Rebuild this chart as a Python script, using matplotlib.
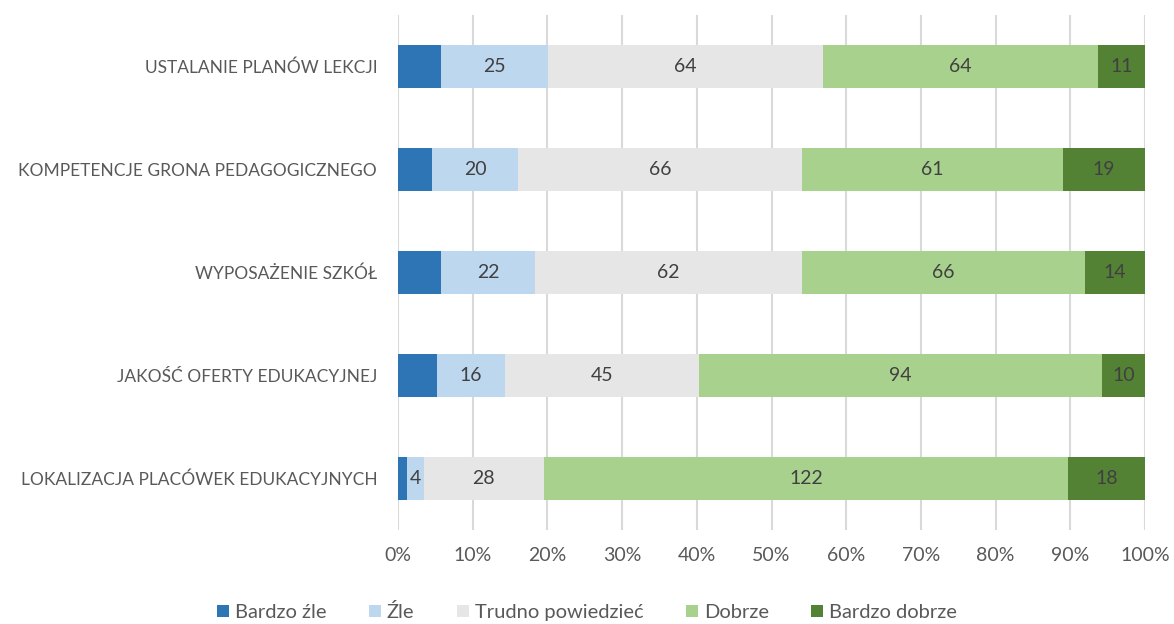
import matplotlib
matplotlib.use("Agg")
import matplotlib.pyplot as plt
import numpy as np

plt.rcParams['font.family'] = ['Lato', 'DejaVu Sans']

categories = ["USTALANIE PLANÓW LEKCJI", "KOMPETENCJE GRONA PEDAGOGICZNEGO",
              "WYPOSAŻENIE SZKÓŁ", "JAKOŚĆ OFERTY EDUKACYJNEJ",
              "LOKALIZACJA PLACÓWEK EDUKACYJNYCH"]
bardzo_zle = [10, 8, 10, 9, 2]
zle = [25, 20, 22, 16, 4]
trudno = [64, 66, 62, 45, 28]
dobrze = [64, 61, 66, 94, 122]
bardzo_dobrze = [11, 19, 14, 10, 18]
series_names = ["Bardzo źle", "Źle", "Trudno powiedzieć", "Dobrze", "Bardzo dobrze"]
colors = ["#2E75B6", "#BDD7EE", "#E7E6E6", "#A9D18E", "#548235"]
show_labels = [False, True, True, True, True]
xtick_labels = ["0%", "10%", "20%", "30%", "40%", "50%", "60%", "70%", "80%", "90%", "100%"]

data = np.array([bardzo_zle, zle, trudno, dobrze, bardzo_dobrze], dtype=float)
totals = data.sum(axis=0)
pct = data / totals * 100

fig = plt.figure(figsize=(11.74, 6.24), dpi=100)
ax = fig.add_axes([398/1174, 1 - 530/624, (1145-398)/1174, (530-15)/624])

y = np.arange(len(categories))
left = np.zeros(len(categories))
for i in range(len(series_names)):
    ax.barh(y, pct[i], left=left, height=0.41, color=colors[i], label=series_names[i], zorder=3)
    if show_labels[i]:
        for j in range(len(categories)):
            ax.text(left[j] + pct[i][j] / 2, y[j], f"{int(data[i][j])}", ha='center', va='center',
                    fontsize=14, color="#404040", zorder=4)
    left += pct[i]

ax.set_xlim(0, 100)
ax.set_ylim(len(categories) - 0.5, -0.5)
ax.set_xticks(np.arange(0, 101, 10))
ax.set_xticklabels(xtick_labels, fontsize=14, color="#595959")
ax.tick_params(axis='both', length=0)
ax.tick_params(axis='x', pad=12)
ax.set_yticks(y)
ax.set_yticklabels(categories, fontsize=12.5, color="#595959")
ax.tick_params(axis='y', pad=15)
ax.grid(axis='x', color="#D9D9D9", linewidth=1.5, zorder=0)
for s in ax.spines.values():
    s.set_visible(False)

handles, labels = ax.get_legend_handles_labels()
fig.legend(handles, labels, loc='center', bbox_to_anchor=(0.5, 1 - 612/624), ncol=5,
           frameon=False, fontsize=14.5, handlelength=0.6, handleheight=0.6,
           handletextpad=0.3, columnspacing=2.1, labelcolor="#595959")

fig.savefig("out.png", dpi=100)
